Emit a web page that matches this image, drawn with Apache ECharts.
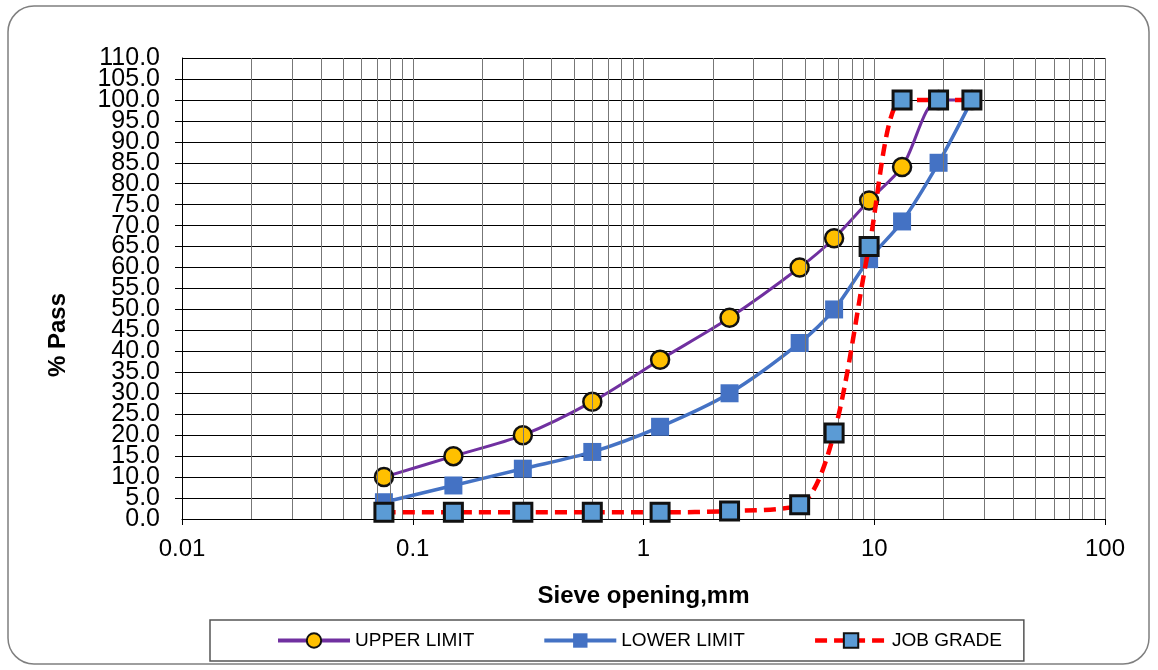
<!DOCTYPE html>
<html>
<head>
<meta charset="utf-8">
<title>Sieve analysis</title>
<script src="https://cdn.jsdelivr.net/npm/echarts@6/dist/echarts.min.js"></script>
<style>
  html, body { margin: 0; padding: 0; background: #fff; }
  #chart { width: 1158px; height: 670px; }
</style>
</head>
<body>
<div id="chart"></div>
<script>
// sieve sizes (mm)
var sieves = [0.075, 0.15, 0.3, 0.6, 1.18, 2.36, 4.75, 6.7, 9.5, 13.2, 19, 26.5];
// % passing
var upperLimit = [10, 15, 20, 28, 38, 48, 60, 67, 76, 84, 100, 100];
var lowerLimit = [4, 8, 12, 16, 22, 30, 42, 50, 62, 71, 85, 100];
var jobGrade = [1.6, 1.6, 1.6, 1.6, 1.6, 1.9, 3.4, 20.5, 65, 100, 100, 100];
// minor vertical grid positions of the log axis
var minorGrid = [
  0.02, 0.03, 0.04, 0.05, 0.06, 0.07, 0.08, 0.09,
  0.2, 0.3, 0.4, 0.5, 0.6, 0.7, 0.8, 0.9,
  2, 3, 4, 5, 6, 7, 8, 9,
  20, 30, 40, 50, 60, 70, 80, 90
];

function pairs(ys) {
  return sieves.map(function (x, i) { return [x, ys[i]]; });
}

var chart = echarts.init(document.getElementById('chart'));
var font = 'Liberation Sans, Arial, sans-serif';
var yLabel = {
  fontSize: 25, lineHeight: 19, color: '#000', margin: 22, fontFamily: font,
  formatter: function (v) { return v.toFixed(1); }
};

chart.setOption({
  animation: false,
  textStyle: { fontFamily: font },
  graphic: [
    {
      type: 'rect',
      shape: { x: 8, y: 6, width: 1141, height: 658, r: 26 },
      style: { fill: 'none', stroke: '#7f7f7f', lineWidth: 1.5 },
      z: -10
    },
    {
      // y axis title (sits a bit below the plot's middle, as in the original)
      type: 'text',
      x: 58,
      y: 335,
      rotation: Math.PI / 2,
      style: {
        text: '% Pass',
        fontSize: 24,
        fontWeight: 'bold',
        fontFamily: font,
        fill: '#000',
        textAlign: 'center',
        textVerticalAlign: 'middle'
      }
    }
  ],
  grid: { left: 182, right: 53, top: 58, bottom: 151 },
  xAxis: {
    type: 'log',
    logBase: 10,
    min: 0.01,
    max: 100,
    name: 'Sieve opening,mm',
    nameLocation: 'middle',
    nameGap: 65,
    nameTextStyle: { fontSize: 24, fontWeight: 'bold', color: '#000', fontFamily: font },
    axisLine: { show: true, lineStyle: { color: '#000', width: 1 } },
    axisTick: { show: true, length: 6, lineStyle: { color: '#000' } },
    axisLabel: {
      fontSize: 24, color: '#000', margin: 18, fontFamily: font,
      formatter: function (v) { return String(+v.toPrecision(3)); }
    },
    splitLine: { show: true, lineStyle: { color: '#777', width: 1 } }
  },
  yAxis: [
    {
      // inner labels 5.0 .. 105.0
      type: 'value',
      min: 0,
      max: 110,
      interval: 5,
      axisLine: { show: true, lineStyle: { color: '#000', width: 1 } },
      axisTick: { show: true, length: 7, lineStyle: { color: '#000' } },
      axisLabel: Object.assign({ showMinLabel: false, showMaxLabel: false }, yLabel),
      splitLine: { show: true, lineStyle: { color: '#000', width: 1 } }
    },
    {
      // end labels 0.0 and 110.0 (kept apart so they are not hidden by overlap)
      type: 'value',
      position: 'left',
      min: 0,
      max: 110,
      interval: 110,
      axisLine: { show: false },
      axisTick: { show: false },
      axisLabel: yLabel,
      splitLine: { show: false }
    }
  ],
  legend: {
    left: 210,
    top: 620,
    padding: [11, 22, 11, 66],
    itemGap: 68,
    itemWidth: 72,
    itemHeight: 18,
    borderColor: '#555',
    borderWidth: 1.5,
    textStyle: { fontSize: 19, color: '#000', fontFamily: font },
    data: [
      { name: 'UPPER LIMIT', lineStyle: { width: 4 } },
      { name: 'LOWER LIMIT', lineStyle: { width: 4 } },
      { name: 'JOB GRADE', lineStyle: { width: 4.5 } }
    ]
  },
  series: [
    {
      name: 'grid',
      type: 'line',
      data: [],
      silent: true,
      markLine: {
        silent: true,
        symbol: 'none',
        label: { show: false },
        lineStyle: { color: '#777', width: 1, type: 'solid' },
        data: minorGrid.map(function (v) { return { xAxis: v }; })
      }
    },
    {
      name: 'UPPER LIMIT',
      type: 'line',
      data: pairs(upperLimit),
      smooth: 0.3,
      symbol: 'circle',
      symbolSize: 18,
      lineStyle: { color: '#7030A0', width: 3 },
      itemStyle: { color: '#FFC000', borderColor: '#111', borderWidth: 2.5 },
      z: 3
    },
    {
      name: 'LOWER LIMIT',
      type: 'line',
      data: pairs(lowerLimit),
      smooth: 0.3,
      symbol: 'rect',
      symbolSize: 18,
      lineStyle: { color: '#4472C4', width: 3.5 },
      itemStyle: { color: '#4472C4', borderWidth: 0 },
      z: 4
    },
    {
      name: 'JOB GRADE',
      type: 'line',
      data: pairs(jobGrade),
      smooth: 0.3,
      symbol: 'rect',
      symbolSize: 18,
      lineStyle: { color: '#FF0000', width: 4.5, type: [12, 7] },
      itemStyle: { color: '#5B9BD5', borderColor: '#111', borderWidth: 3 },
      z: 5
    }
  ]
});
</script>
</body>
</html>
